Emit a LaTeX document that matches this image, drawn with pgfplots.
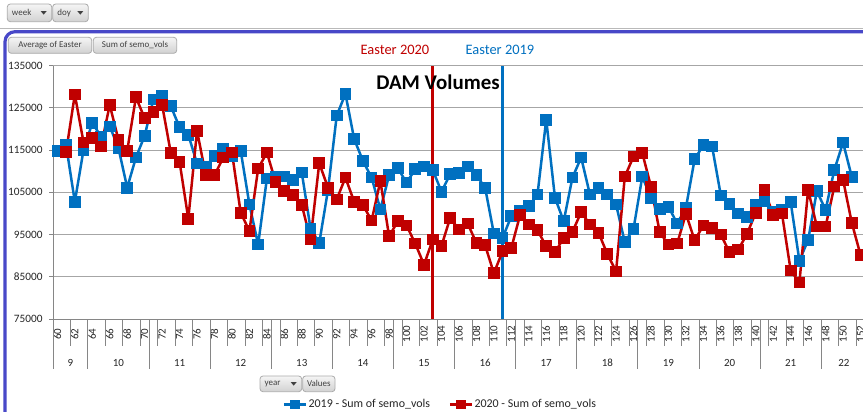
\documentclass[border=0pt]{standalone}
\usepackage{pgfplots}
\usepackage{pgfplotstable}
\pgfplotsset{compat=1.18}
\usepackage{fontspec}
\setmainfont{Carlito}
\definecolor{sblue}{HTML}{0070C0}
\definecolor{sred}{HTML}{C00000}
\definecolor{frameblue}{HTML}{4848C8}
\definecolor{gridgray}{HTML}{A6A6A6}
\definecolor{axgray}{HTML}{868686}
\definecolor{btnborder}{HTML}{ABABAB}
\definecolor{btntext}{HTML}{404040}

\pgfplotstableread{
d v
60 114840
61 116190
62 102780
63 115080
64 121430
65 118250
66 120630
67 115480
68 106110
69 113250
70 118410
71 126980
72 127940
73 125400
74 120400
75 118650
76 111830
77 111110
78 113650
79 115400
80 113490
81 114840
82 102140
83 92620
84 108250
85 108730
86 108730
87 107940
88 109680
89 96430
90 93010
91 105560
92 123170
93 128330
94 117620
95 112460
96 108490
97 100950
98 109050
99 110710
100 107300
101 110480
102 111110
103 110320
104 105160
105 109290
106 109520
107 111110
108 109050
109 106110
110 95240
111 94200
112 99360
113 100600
114 101700
115 104520
116 122220
117 103730
118 98170
119 108490
120 113250
121 104520
122 106110
123 104520
124 102140
125 93170
126 96350
127 108730
128 103730
129 101110
130 101590
131 97620
132 101350
133 112860
134 116190
135 115870
136 104280
137 102300
138 100000
139 99200
140 102140
141 103000
142 100500
143 100800
144 102700
145 88810
146 93700
147 105300
148 100850
149 110300
150 116800
151 108700
}\tblue

\pgfplotstableread{
d v
61 114600
62 128170
63 116830
64 117860
65 115870
66 125710
67 117380
68 114840
69 127540
70 122540
71 123970
72 125710
73 114290
74 112220
75 98730
76 119600
77 109050
78 109050
79 113250
80 114440
81 100160
82 95870
83 110630
84 114440
85 107460
86 105320
87 104370
88 101980
89 93810
90 111900
91 106110
92 103330
93 108490
94 102780
95 101980
96 98330
97 107700
98 94600
99 98170
100 97140
101 92860
102 87860
103 93810
104 92300
105 98970
106 96190
107 97620
108 93010
109 92460
110 85870
111 91030
112 91820
113 99600
114 97380
115 96030
116 92220
117 90790
118 94200
119 95630
120 100320
121 97380
122 95390
123 90400
124 86270
125 108730
126 113490
127 114360
128 106350
129 95550
130 92620
131 92860
132 99920
133 93650
134 97140
135 96590
136 95000
137 90790
138 91430
139 95160
140 100160
141 105560
142 99600
143 100000
144 86510
145 83650
146 105560
147 96900
148 96900
149 106400
150 108000
151 97800
152 90200
}\tred

\newcommand\btn[5]{%
  \draw[btnborder, line width=0.8bp, rounded corners=3bp, top color=white!96!black, bottom color=white!82!black]
    (#1,#2) rectangle (#3,#4);
  \node[font=\fontsize{9}{9}\selectfont, text=btntext, inner sep=0pt] at ({(#1+#3)/2},{(#2+#4)/2}) {#5};}
\newcommand\btnarrow[5]{%
  \draw[btnborder, line width=0.8bp, rounded corners=3bp, top color=white!96!black, bottom color=white!82!black]
    (#1,#2) rectangle (#3,#4);
  \node[font=\fontsize{9}{9}\selectfont, text=btntext, inner sep=0pt, anchor=west] at ({#1+4.5},{(#2+#4)/2}) {#5};
  \fill[btntext] ({#3-11},{(#2+#4)/2+1.8}) -- ({#3-5},{(#2+#4)/2+1.8}) -- ({#3-8},{(#2+#4)/2-1.8}) -- cycle;}

\begin{document}
\begin{tikzpicture}[x=1bp,y=1bp]
\useasboundingbox (0,0) rectangle (863,411);
\clip (0,0) rectangle (863,411);
\fill[white] (0,0) rectangle (863,411);
% top separator line
\draw[gray!55, line width=1.2bp] (0,382.8) -- (863,382.8);
% blue frame
\draw[frameblue, line width=3.2bp, rounded corners=10bp] (5,-20) -- (5,379.3) -- (900,379.3);
% top buttons
\btnarrow{7.3}{407}{51.7}{389.3}{week}
\btnarrow{52.7}{407}{88.3}{389.3}{doy}
\btn{8.3}{373.7}{91.7}{357.7}{Average of Easter}
\btn{93.3}{373.7}{176.7}{357.7}{Sum of semo\_vols}
% bottom buttons
\btnarrow{260}{35}{301.7}{19.3}{year}
\btn{302.7}{35}{335}{19.3}{Values}

\begin{axis}[
  at={(53bp,92bp)}, anchor=south west, scale only axis,
  width=813.6bp, height=253.3bp,
  xmin=59.5, xmax=152.7, ymin=75000, ymax=135000,
  clip=false,
  axis x line*=bottom, axis y line*=left,
  axis line style={axgray, line width=1bp},
  ytick={75000,85000,...,135000},
  scaled y ticks=false,
  /pgf/number format/assume math mode=true,
  yticklabel style={/pgf/number format/fixed, /pgf/number format/1000 sep={},
     font=\fontsize{11.3}{11.3}\selectfont, text=black!85, anchor=east, xshift=-3bp},
  ytick align=outside,
  ytick style={axgray, line width=1bp},
  major tick length=4bp,
  ymajorgrids, grid style={gridgray, line width=1bp},
  xtick={60,62,...,152},
  xtick style={draw=none},
  xticklabel style={yshift=-15bp, rotate=90, anchor=center, font=\fontsize{11}{11}\selectfont, text=black!85},
  legend style={at={(axis description cs:0.4757,-0.3375)}, anchor=center, draw=none, fill=none,
     legend columns=2, font=\fontsize{12}{12}\selectfont, text=black!85,
     /tikz/every even column/.append style={column sep=17bp},
     nodes={inner sep=1.5bp}},
  legend image code/.code={\draw[mark repeat=2,mark phase=2,#1, mark size=3.6bp] plot coordinates {(0bp,0bp) (11bp,0bp) (22bp,0bp)};},
]
\addplot[sred, line width=3bp, forget plot] coordinates {(103,75000) (103,135000)};
\addplot[sblue, line width=3bp, forget plot] coordinates {(111,75000) (111,135000)};
\addplot[sblue, line width=2.5bp, line join=round, mark=square*, mark size=4.6bp, mark options={solid, line join=miter}] table[x=d,y=v] {\tblue};
\addlegendentry{2019 - Sum of semo\_vols}
\addplot[sred, line width=2.5bp, line join=round, mark=square*, mark size=4.6bp, mark options={solid, line join=miter}] table[x=d,y=v] {\tred};
\addlegendentry{2020 - Sum of semo\_vols}
\node[font=\bfseries\fontsize{21}{21}\selectfont, text=black] at (axis cs:103.6,131100) {DAM Volumes};
\node[font=\fontsize{14.5}{14.5}\selectfont, text=sred] at (axis cs:98.67,138730) {Easter 2020};
\node[font=\fontsize{14.5}{14.5}\selectfont, text=sblue] at (axis cs:110.7,138730) {Easter 2019};
% week labels
\foreach \w/\c in {9/61.5,10/67,11/74,12/81,13/88,14/95,15/102,16/109,17/116,18/123,19/130,20/137,21/144,22/150.1}{
  \edef\temp{\noexpand\node[font=\noexpand\fontsize{11}{11}\noexpand\selectfont, text=black!85] at (axis cs:\c,75000) [yshift=-43.7bp] {\w};}
  \temp
}
\end{axis}
% doy separators
\foreach \d in {61.5,63.5,...,151.5}{
  \draw[axgray, line width=0.9bp] ({53+(\d-59.5)*8.72961},92) -- ++(0,-27);
}
% week separators
\foreach \d in {59.5,63.5,70.5,77.5,84.5,91.5,98.5,105.5,112.5,119.5,126.5,133.5,140.5,147.5}{
  \draw[axgray, line width=0.9bp] ({53+(\d-59.5)*8.72961},92) -- ++(0,-50);
}
\end{tikzpicture}
\end{document}
